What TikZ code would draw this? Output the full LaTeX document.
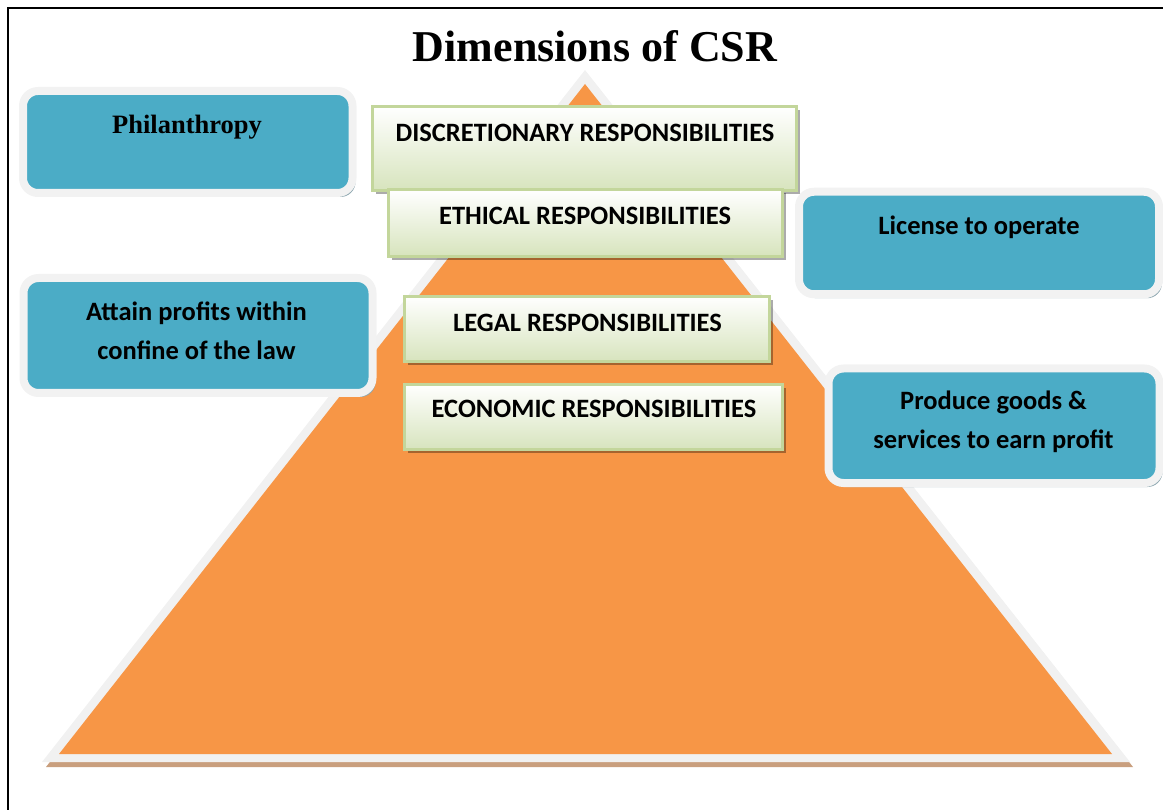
\documentclass[tikz,border=0pt]{standalone}
\usepackage{fontspec}
\setmainfont{Liberation Serif}
\newfontfamily\calib{Carlito}
\usetikzlibrary{shadows}

\definecolor{pyrorange}{HTML}{F79646}
\definecolor{pyrrim}{HTML}{F1F1F1}
\definecolor{pyrshadow}{HTML}{C99F7E}
\definecolor{levelline}{HTML}{C3D69B}
\definecolor{levelfill}{HTML}{D7E4BD}
\definecolor{notefill}{HTML}{4BACC6}
\definecolor{noterim}{HTML}{F2F2F2}
\definecolor{noteshadow}{HTML}{8FA8B1}

\tikzset{
  levelbox/.style={rectangle, draw=levelline, line width=2.5pt,
    top color=white, bottom color=levelfill, inner sep=0pt,
    drop shadow={shadow xshift=3pt, shadow yshift=-4pt, fill=black, opacity=.33}},
  notebox/.style={rectangle, rounded corners=15pt, fill=notefill, draw=noterim,
    line width=8pt, inner sep=0pt,
    drop shadow={shadow xshift=3pt, shadow yshift=-4pt, fill=noteshadow, opacity=1}},
  leveltext/.style={anchor=base, inner sep=0pt, font=\calib\bfseries\fontsize{26.5}{30}\selectfont},
  notetext/.style={anchor=base, inner sep=0pt, align=center,
    font=\calib\bfseries\fontsize{26.5}{39}\selectfont},
  serifnote/.style={anchor=base, inner sep=0pt, font=\bfseries\fontsize{26.5}{30}\selectfont},
}

\begin{document}
\begin{tikzpicture}[x=1pt, y=-1pt]
\useasboundingbox (0,0) rectangle (1163,810);

% page frame
\draw[line width=1.6pt] (8,810) -- (8,8) -- (1163,8);

% title
\node[anchor=base, inner sep=0pt, font=\bfseries\fontsize{44}{50}\selectfont] (title) at (595,62) {Dimensions of CSR};

% pyramid: shadow, light rim, orange body
\fill[pyrshadow] (588,75) -- (1133,767) -- (46,767) -- cycle;
\fill[pyrrim] (585,70) -- (1130,762) -- (42,762) -- cycle;
\fill[pyrorange] (585,84) -- (1112,754) -- (59,754) -- cycle;

% responsibility levels
\node[levelbox, minimum width=424pt, minimum height=84pt] (discbox) at (584.5,148.5) {};
\node[leveltext] (disc) at (585,141.5) {DISCRETIONARY RESPONSIBILITIES};

\node[levelbox, minimum width=394pt, minimum height=67pt] (ethbox) at (585.5,223) {};
\node[leveltext] (eth) at (585,224.3) {ETHICAL RESPONSIBILITIES};

\node[levelbox, minimum width=365pt, minimum height=65pt] (legalbox) at (587,329) {};
\node[leveltext] (legal) at (587.5,331.7) {LEGAL RESPONSIBILITIES};

\node[levelbox, minimum width=378pt, minimum height=65pt] (econbox) at (593.5,417) {};
\node[leveltext] (econ) at (594,417.7) {ECONOMIC RESPONSIBILITIES};

% side notes (multi-line text: base anchor sits on the last line)
\node[notebox, minimum width=329.5pt, minimum height=102pt] (philbox) at (187.75,142) {};
\node[serifnote] (phil) at (187,134) {Philanthropy};

\node[notebox, minimum width=360pt, minimum height=102.5pt] (licbox) at (979,243) {};
\node[notetext] (lic) at (979,235) {License to operate};

\node[notebox, minimum width=349pt, minimum height=115pt] (lawbox) at (198,335.5) {};
\node[notetext] (law) at (196.5,359.3) {Attain profits within\\confine of the law};

\node[notebox, minimum width=331pt, minimum height=114.5pt] (goodsbox) at (994,425.75) {};
\node[notetext] (goods) at (993.5,448.3) {Produce goods \&\\services to earn profit};
\end{tikzpicture}
\end{document}
